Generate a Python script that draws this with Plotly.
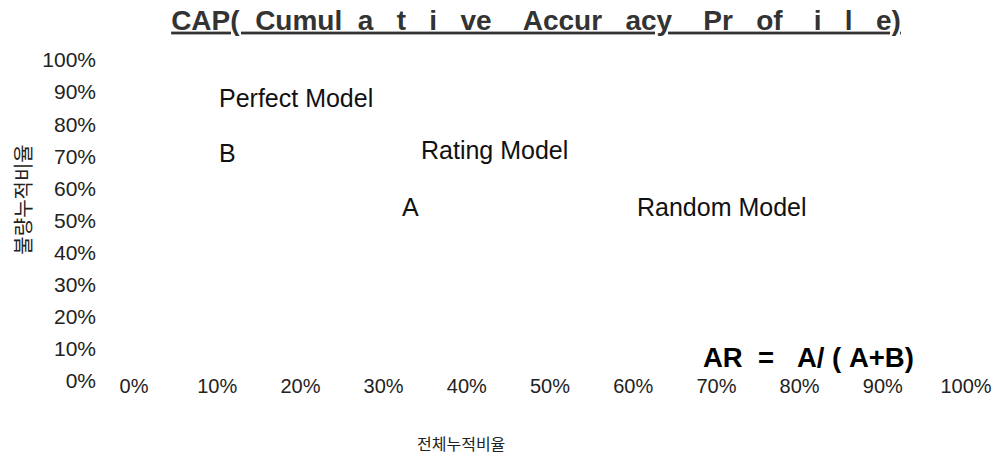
import plotly.graph_objects as go

# Axis ticks
x_ticks = [0, 0.1, 0.2, 0.3, 0.4, 0.5, 0.6, 0.7, 0.8, 0.9, 1.0]
y_ticks = [0, 0.1, 0.2, 0.3, 0.4, 0.5, 0.6, 0.7, 0.8, 0.9, 1.0]

# Text labels placed inside the chart (data coords)
label_text = ["Perfect Model", "B", "Rating Model", "A", "Random Model"]
label_x = [0.1, 0.1, 0.342, 0.3195, 0.602]
label_y = [0.882, 0.710, 0.720, 0.542, 0.542]

formula_text = "AR&nbsp;&nbsp;=&nbsp;&nbsp;&nbsp;A/&nbsp;(&nbsp;A+B)"
formula_x = 0.682
formula_y = 0.072

N = "&nbsp;"
title_text = ("CAP(" + N * 2 + "Cumul" + N * 2 + "a" + N * 3 + "t" + N * 3 + "i" + N * 3 + "ve" + N * 4
              + "Accur" + N * 3 + "acy" + N * 4 + "Pr" + N * 3 + "of" + N * 4 + "i" + N * 3 + "l"
              + N * 3 + "e)")
x_title = "전체누적비율"
y_title = "불량누적비율"

W, H = 996, 451
L, R, T, B = 126, 26, 47, 64
plot_w = W - L - R
plot_h = H - T - B

fig = go.Figure()

annotations = []
for t, x, y in zip(label_text, label_x, label_y):
    annotations.append(dict(x=x, y=y, xref="x", yref="y", text=t, showarrow=False,
                            xanchor="left", yanchor="middle",
                            font=dict(family="Liberation Sans, Arial", size=25, color="#111")))
annotations.append(dict(x=formula_x, y=formula_y, xref="x", yref="y", text="<b>" + formula_text + "</b>",
                        showarrow=False, xanchor="left", yanchor="middle",
                        font=dict(family="Liberation Sans, Arial", size=27.5, color="#000")))
annotations.append(dict(x=0.393, y=-0.141, xref="paper", yref="paper", text=x_title,
                        showarrow=False, xanchor="center", yanchor="middle",
                        font=dict(family="Noto Sans CJK KR", size=16, color="#222")))
annotations.append(dict(x=(20 - 8 - L) / plot_w, y=0.5735, xref="paper", yref="paper", text=y_title,
                        textangle=-90, showarrow=False, xanchor="center", yanchor="middle",
                        font=dict(family="Noto Sans CJK KR", size=20, color="#222")))

fig.update_layout(
    width=W, height=H,
    margin=dict(l=L, r=R, t=T, b=B),
    paper_bgcolor="white", plot_bgcolor="white",
    showlegend=False,
    title=dict(text="<b>" + title_text + "</b>", x=528 / W, xanchor="center",
               y=1 - 2 / H, yanchor="top", xref="container", yref="container",
               font=dict(family="Liberation Sans, Arial", size=28, color="#333", lineposition="under")),
    annotations=annotations,
    xaxis=dict(range=[0, 1], tickvals=x_ticks, tickformat=".0%", showgrid=False, zeroline=False,
               showline=False, ticks="", anchor="free", position=(387 - 364) / plot_h,
               tickfont=dict(family="Liberation Sans, Arial", size=20, color="#222")),
    yaxis=dict(range=[-(387 - 373) / 321, 1 + 5 / 321], tickvals=y_ticks, tickformat=".0%",
               domain=[0, 1], showgrid=False, zeroline=False, showline=False, ticks="",
               ticklabelstandoff=37,
               tickfont=dict(family="Liberation Sans, Arial", size=21, color="#222")),
)

fig.write_html("out.html")
